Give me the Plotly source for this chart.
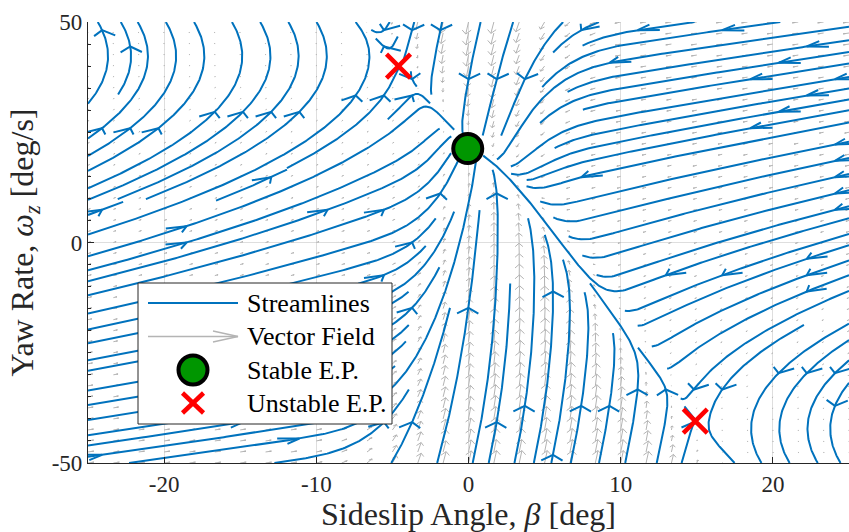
import math
import numpy as np
import plotly.graph_objects as go

# ---------------- values ----------------
beta_limits = [-25, 25]          # deg
r_limits = [-50, 50]             # deg/s
x_tick_values = [-20, -10, 0, 10, 20]
x_tick_labels = ["-20", "-10", "0", "10", "20"]
y_tick_values = [-50, 0, 50]
y_tick_labels = ["-50", "0", "50"]

stable_beta = [-0.05]
stable_r = [21.3]
unstable_beta = [-4.6, 14.9]
unstable_r = [40.0, -40.5]

legend_labels = ["Streamlines", "Vector Field", "Stable E.P.", "Unstable E.P."]

# ------------- single-track vehicle model behind the vector field -------------
speed = 9.8          # m/s
a_front = 1.764      # m
b_rear = 1.029       # m
steer_deg = 5.17     # deg
mu_front = 0.80
mu_rear = 0.70
k_front = 27.3       # cornering stiffness / load [1/rad]
k_rear = 14.5
yaw_gain = 2.2       # m a b / Iz
gravity = 9.81

# quiver grid (MATLAB meshgrid)
quiver_beta = np.linspace(-25, 25, 31)
quiver_r = np.linspace(-50, 50, 41)

BLUE = "#0072BD"
GRAY = "#b4b4b4"
GREEN = "#009600"
RED = "#ff0000"
FONT = "Liberation Serif"
TXT = "#262626"

wheelbase = a_front + b_rear
w_front = b_rear / wheelbase
w_rear = a_front / wheelbase
delta = math.radians(steer_deg)


def tire(alpha, mu, k):
    u = k * abs(math.tan(alpha)) / (3.0 * mu)
    n = mu if u >= 1.0 else mu * (1.0 - (1.0 - u) ** 3)
    return -n if alpha > 0 else n


def field(beta_deg, r_deg):
    be = math.radians(beta_deg)
    r = math.radians(r_deg)
    nf = tire(be + a_front * r / speed - delta, mu_front, k_front)
    nr = tire(be - b_rear * r / speed, mu_rear, k_rear)
    bdot = gravity / speed * (w_front * nf + w_rear * nr) - r
    rdot = gravity / wheelbase * yaw_gain * (nf - nr)
    return math.degrees(bdot), math.degrees(rdot)


# ---------------- streamslice-like streamlines ----------------
x0, x1 = beta_limits
y0, y1 = r_limits
XW = x1 - x0
YW = y1 - y0
NS = 27          # seeding grid
NE = 54          # collision grid
H = 0.003


def ndir(X, Y):
    u, v = field(x0 + X * XW, y0 + Y * YW)
    du, dv = u / XW, v / YW
    s = math.hypot(du, dv)
    if s < 1e-12:
        return None
    return du / s, dv / s


start_grid = [[False] * NS for _ in range(NS)]
end_grid = [[-1] * NE for _ in range(NE)]


def ecell(X, Y):
    return min(int(X * NE), NE - 1), min(int(Y * NE), NE - 1)


def scell(X, Y):
    return min(int(X * NS), NS - 1), min(int(Y * NS), NS - 1)


def trace(X, Y, sgn, lid, evis):
    pts = []
    ci, cj = ecell(X, Y)
    prev = None
    for _ in range(4000):
        d = ndir(X, Y)
        if d is None:
            break
        d = (sgn * d[0], sgn * d[1])
        if prev is not None and d[0] * prev[0] + d[1] * prev[1] < 0.0:
            break
        dm = ndir(X + 0.5 * H * d[0], Y + 0.5 * H * d[1])
        if dm is None:
            break
        dm = (sgn * dm[0], sgn * dm[1])
        if dm[0] * d[0] + dm[1] * d[1] < 0.0:
            break
        Xn = X + H * dm[0]
        Yn = Y + H * dm[1]
        if not (0.0 <= Xn <= 1.0 and 0.0 <= Yn <= 1.0):
            t = 1.0
            if Xn < 0:
                t = min(t, X / (X - Xn))
            if Xn > 1:
                t = min(t, (1 - X) / (Xn - X))
            if Yn < 0:
                t = min(t, Y / (Y - Yn))
            if Yn > 1:
                t = min(t, (1 - Y) / (Yn - Y))
            pts.append((X + t * (Xn - X), Y + t * (Yn - Y)))
            break
        ni, nj = ecell(Xn, Yn)
        if (ni, nj) != (ci, cj):
            o = end_grid[nj][ni]
            if o != -1 and o != lid:
                break
            if o == -1:
                end_grid[nj][ni] = lid
                evis.append((ni, nj))
            ci, cj = ni, nj
        si, sj = scell(Xn, Yn)
        start_grid[sj][si] = True
        X, Y = Xn, Yn
        pts.append((X, Y))
        prev = dm
    return pts


stream_x, stream_y = [], []
arrow_x, arrow_y = [], []
ARROW_LEN = 1.46
ARROW_ANG = math.radians(28.7)
ncell = NS * NS
lid = 0
for k in range(ncell):
    idx = (k * 317) % ncell
    i, j = idx % NS, idx // NS
    if start_grid[j][i]:
        continue
    X0 = (i + 0.5) / NS
    Y0 = (j + 0.5) / NS
    ei, ej = ecell(X0, Y0)
    start_grid[j][i] = True
    if end_grid[ej][ei] != -1:
        continue
    evis = [(ei, ej)]
    end_grid[ej][ei] = lid
    fwd = trace(X0, Y0, 1, lid, evis)
    bwd = trace(X0, Y0, -1, lid, evis)
    pts = bwd[::-1] + [(X0, Y0)] + fwd
    if len(pts) < 5:
        for (a, b) in evis:
            end_grid[b][a] = -1
        lid += 1
        continue
    for (X, Y) in pts:
        stream_x.append(x0 + X * XW)
        stream_y.append(y0 + Y * YW)
    stream_x.append(None)
    stream_y.append(None)
    # chevron arrow at the seed point
    bs, rs = x0 + X0 * XW, y0 + Y0 * YW
    u, v = field(bs, rs)
    m = math.hypot(u, v)
    if m > 0:
        ux, uy = u / m, v / m
        c, s = math.cos(ARROW_ANG), math.sin(ARROW_ANG)
        l1 = (bs - ARROW_LEN * (c * ux - s * uy), rs - ARROW_LEN * (s * ux + c * uy))
        l2 = (bs - ARROW_LEN * (c * ux + s * uy), rs - ARROW_LEN * (-s * ux + c * uy))
        arrow_x += [l1[0], bs, l2[0], None]
        arrow_y += [l1[1], rs, l2[1], None]
    lid += 1

# ---------------- quiver (MATLAB autoscale) ----------------
QB, QR = np.meshgrid(quiver_beta, quiver_r)
QU = np.zeros_like(QB)
QV = np.zeros_like(QB)
for jj in range(QB.shape[0]):
    for ii in range(QB.shape[1]):
        QU[jj, ii], QV[jj, ii] = field(QB[jj, ii], QR[jj, ii])
nq = math.sqrt(QU.size)
delx = XW / nq
dely = YW / nq
dl = delx ** 2 + dely ** 2
lens = np.sqrt((QU ** 2 + QV ** 2) / dl)
sc = 0.9 / lens.max()
QU = QU * sc
QV = QV * sc
al, be_ = 0.33, 0.33
eps = 1e-12
qx, qy = [], []
for x, y, u, v in zip(QB.ravel(), QR.ravel(), QU.ravel(), QV.ravel()):
    qx += [x, x + u, None,
           x + u - al * (u + be_ * (v + eps)), x + u, x + u - al * (u - be_ * (v + eps)), None]
    qy += [y, y + v, None,
           y + v - al * (v - be_ * (u + eps)), y + v, y + v - al * (v + be_ * (u + eps)), None]

fig = go.Figure()
fig.add_trace(go.Scatter(x=qx, y=qy, mode="lines", line=dict(color=GRAY, width=1),
                         hoverinfo="skip", showlegend=False))
fig.add_trace(go.Scatter(x=stream_x, y=stream_y, mode="lines", line=dict(color=BLUE, width=2),
                         hoverinfo="skip", showlegend=False))
fig.add_trace(go.Scatter(x=arrow_x, y=arrow_y, mode="lines", line=dict(color=BLUE, width=2),
                         hoverinfo="skip", showlegend=False))
fig.add_trace(go.Scatter(x=stable_beta, y=stable_r, mode="markers", showlegend=False,
                         marker=dict(size=29, color=GREEN, line=dict(color="black", width=4))))
fig.add_trace(go.Scatter(x=unstable_beta, y=unstable_r, mode="markers", showlegend=False,
                         marker=dict(symbol="x-thin", size=24, line=dict(color=RED, width=4.5))))

# ---------------- manual legend (pixel positions converted to paper) ----------------
PX = [88, 849]
PY = [463, 22]


def px(xp):
    return (xp - PX[0]) / (PX[1] - PX[0])


def py(yp):
    return (PY[0] - yp) / (PY[0] - PY[1])


box_l, box_r, box_t, box_b = 138, 392, 283, 424
rows = [303, 336.5, 370, 403]
glyph_l, glyph_r, glyph_c = 148, 238, 193
shapes = [
    dict(type="rect", xref="paper", yref="paper", x0=px(box_l), x1=px(box_r), y0=py(box_b), y1=py(box_t),
         fillcolor="white", line=dict(color=TXT, width=1), layer="above"),
    dict(type="line", xref="paper", yref="paper", x0=px(glyph_l), x1=px(glyph_r), y0=py(rows[0]), y1=py(rows[0]),
         line=dict(color=BLUE, width=2), layer="above"),
    dict(type="line", xref="paper", yref="paper", x0=px(glyph_l), x1=px(glyph_r), y0=py(rows[1]), y1=py(rows[1]),
         line=dict(color=GRAY, width=1.3), layer="above"),
    dict(type="path", xref="paper", yref="paper",
         path="M {:.5f},{:.5f} L {:.5f},{:.5f} L {:.5f},{:.5f}".format(
             px(glyph_r - 25), py(rows[1] - 5.5), px(glyph_r), py(rows[1]), px(glyph_r - 25), py(rows[1] + 5.5)),
         line=dict(color=GRAY, width=1.3), layer="above"),
    dict(type="circle", xref="paper", yref="paper", x0=px(glyph_c - 14.5), x1=px(glyph_c + 14.5),
         y0=py(rows[2] + 14.5), y1=py(rows[2] - 14.5), fillcolor=GREEN, line=dict(color="black", width=4),
         layer="above"),
    dict(type="line", xref="paper", yref="paper", x0=px(glyph_c - 10.5), x1=px(glyph_c + 10.5),
         y0=py(rows[3] - 10), y1=py(rows[3] + 10), line=dict(color=RED, width=4.5), layer="above"),
    dict(type="line", xref="paper", yref="paper", x0=px(glyph_c - 10.5), x1=px(glyph_c + 10.5),
         y0=py(rows[3] + 10), y1=py(rows[3] - 10), line=dict(color=RED, width=4.5), layer="above"),
]

annotations = []
for lab, yy in zip(legend_labels, rows):
    annotations.append(dict(x=px(245), y=py(yy), xref="paper", yref="paper", text=lab, showarrow=False,
                            xanchor="left", yanchor="middle", font=dict(family=FONT, size=26, color="black")))

fig.update_layout(
    width=849, height=532,
    margin=dict(l=88, r=0, t=22, b=69, pad=0),
    paper_bgcolor="white", plot_bgcolor="white",
    showlegend=False,
    shapes=shapes,
    annotations=annotations,
    xaxis=dict(range=beta_limits, tickvals=x_tick_values, ticktext=x_tick_labels,
               ticks="inside", ticklen=6, tickcolor=TXT, showline=True, linecolor=TXT, linewidth=1.2,
               showgrid=True, gridcolor="#dedede", gridwidth=1, zeroline=False, mirror=False,
               tickfont=dict(family=FONT, size=23, color=TXT),
               title=dict(text="Sideslip Angle, <i>β</i> [deg]", standoff=2,
                          font=dict(family=FONT, size=32, color=TXT))),
    yaxis=dict(range=r_limits, tickvals=y_tick_values, ticktext=y_tick_labels,
               ticks="inside", ticklen=6, tickcolor=TXT, showline=True, linecolor=TXT, linewidth=1.2,
               showgrid=True, gridcolor="#dedede", gridwidth=1, zeroline=False, mirror=False,
               minor=dict(ticks="inside", ticklen=3, dtick=5, tick0=0, tickcolor=TXT, showgrid=False),
               tickfont=dict(family=FONT, size=23, color=TXT),
               title=dict(text="Yaw Rate, <i>ω<sub>z</sub></i> [deg/s]", standoff=8,
                          font=dict(family=FONT, size=32, color=TXT))),
)

fig.write_html("out.html")
